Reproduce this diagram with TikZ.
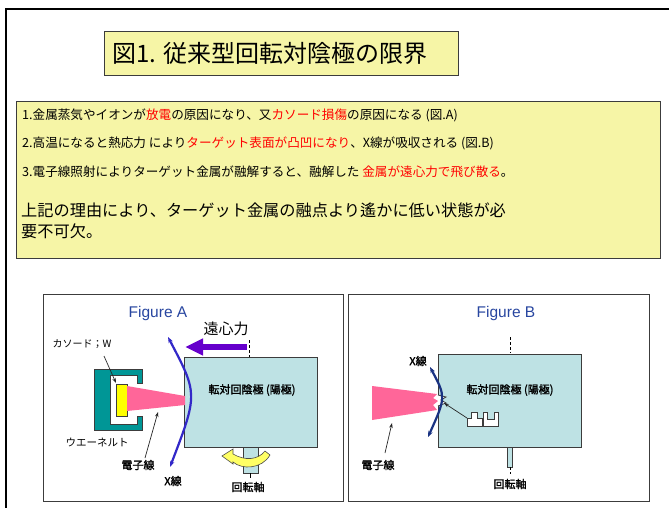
\documentclass[tikz,border=0pt]{standalone}
\usepackage{fontspec}
\setmainfont{Noto Sans CJK JP}
\newfontfamily\jpbold{Noto Sans CJK JP}[FakeBold=1.6]
\newfontfamily\latinsf{Liberation Sans}
\usetikzlibrary{arrows.meta}

\definecolor{boxyellow}{RGB}{246,245,166}
\definecolor{edgegray}{RGB}{60,60,60}
\definecolor{anodecyan}{RGB}{190,226,228}
\definecolor{wehneltteal}{RGB}{0,150,150}
\definecolor{beampink}{RGB}{255,102,153}
\definecolor{forcepurple}{RGB}{102,0,204}
\definecolor{xrayblue}{RGB}{50,40,200}
\definecolor{xraynavy}{RGB}{25,50,130}
\definecolor{figblue}{RGB}{40,70,160}
\definecolor{rotyellow}{RGB}{255,255,100}
\definecolor{cathyellow}{RGB}{255,255,0}

\tikzset{
  notebox/.style={draw=edgegray, line width=1.2pt, fill=boxyellow, inner sep=0pt, anchor=north west},
  panel/.style={draw=edgegray, line width=1.2pt, fill=white, inner sep=0pt, anchor=north west},
  anode/.style={draw=edgegray, line width=1pt, fill=anodecyan, inner sep=0pt, anchor=north west},
  bodytext/.style={anchor=west, inner sep=0pt, font=\fontsize{12.6}{15}\selectfont},
  figtitle/.style={inner sep=0pt, text=figblue, font=\latinsf\fontsize{15.5}{18}\selectfont},
  partlabel/.style={inner sep=0pt, font=\jpbold\fontsize{11}{13}\selectfont},
  pointer/.style={draw=black!85, line width=0.7pt, -{Stealth[length=5pt,width=3.5pt]}},
  xray/.style={line width=2.2pt, {Stealth[length=6pt,width=4.5pt]}-{Stealth[length=6pt,width=4.5pt]}},
  axisline/.style={draw=black, line width=0.8pt, dash pattern=on 3pt off 2pt},
}

\begin{document}
\begin{tikzpicture}[x=1pt,y=-1pt]
\useasboundingbox (0,0) rectangle (669,508);
\fill[white] (0,0) rectangle (669,508);

% page frame
\draw[line width=2pt] (6,508) -- (6,9) -- (669,9);

% title
\node[notebox, minimum width=354pt, minimum height=44pt] (titlebox) at (104,31) {};
\node[anchor=west, inner sep=0pt, font=\fontsize{24}{27}\selectfont] (title) at (112,53) {図1. 従来型回転対陰極の限界};

% notes
\node[notebox, minimum width=644pt, minimum height=157pt] (notes) at (16,101) {};
\node[bodytext] (note1) at (22,115) {1.金属蒸気やイオンが\textcolor{red}{放電}の原因になり、又\textcolor{red}{カソード損傷}の原因になる (図.A)};
\node[bodytext] (note2) at (22,143) {2.高温になると熱応力 により\textcolor{red}{ターゲット表面が凸凹になり}、X線が吸収される (図.B)};
\node[bodytext] (note3) at (22,172) {3.電子線照射によりターゲット金属が融解すると、融解した \textcolor{red}{金属が遠心力で飛び散る}。};
\node[anchor=north west, inner sep=0pt, align=left, font=\fontsize{16.2}{21}\selectfont] (summary) at (21,203)
  {上記の理由により、ターゲット金属の融点より遙かに低い状態が必\\要不可欠。};

% ---------------- Figure A ----------------
\node[panel, minimum width=300pt, minimum height=207pt] (panelA) at (43,294) {};
\node[figtitle] (figA) at (158,313) {Figure A};

% centrifugal force arrow
\node[inner sep=0pt, font=\fontsize{15}{17}\selectfont] (forceA) at (226,329) {遠心力};
\coordinate (forceStart) at (247,347);
\coordinate (forceTip) at (185,347);
\draw[forcepurple, line width=6pt, -{Triangle[length=18pt,width=16pt]}] (forceStart) -- (forceTip);
\coordinate (axisTopA1) at (249,340);
\coordinate (axisTopA2) at (249,357);
\draw[axisline] (axisTopA1) -- (axisTopA2);

% rotating anode, shaft
\node[anode, minimum width=15pt, minimum height=26pt] (shaftA) at (243,447) {};
\node[anode, minimum width=133pt, minimum height=90pt] (rotorA) at (184,357) {};
\node[partlabel] (rotorAtext) at (252,390) {転対回陰極 (陽極)};
\coordinate (axisBotA1) at (250,473);
\coordinate (axisBotA2) at (250,478);
\draw[line width=0.8pt] (axisBotA1) -- (axisBotA2);

% rotation arrow
\draw[draw=black!70, line width=0.6pt, fill=rotyellow]
  (222,456) -- (233,449) -- (233,454)
  .. controls (245,461) and (258,460) .. (265,451)
  -- (270,455)
  .. controls (262,469) and (242,470) .. (233,462)
  -- (233,464) -- cycle;
\node[partlabel] (shaftAtext) at (248,487) {回転軸};

% Wehnelt cup and cathode
\draw[draw=edgegray, line width=0.8pt, fill=wehneltteal]
  (94,369) -- (142,369) -- (142,383) -- (137,383) -- (137,375) -- (110,375)
  -- (110,424) -- (137,424) -- (137,416) -- (142,416) -- (142,430) -- (94,430) -- cycle;
\node[draw=edgegray, line width=0.8pt, fill=cathyellow, inner sep=0pt,
      minimum width=11pt, minimum height=32pt, anchor=north west] (cathode) at (116,384) {};

% electron beam
\fill[beampink] (127,386) -- (185,396) -- (185,405) -- (127,411) -- cycle;

% X-rays
\draw[xray, draw=xrayblue] (168,337) .. controls (198,394) .. (170,467);

% labels and pointers
\node[inner sep=0pt, font=\fontsize{10}{12}\selectfont] (cathlbl) at (82,344) {カソード；W};
\coordinate (cathFrom) at (104,356);
\coordinate (cathTo) at (116,383);
\draw[pointer] (cathFrom) -- (cathTo);
\node[inner sep=0pt, font=\fontsize{10.5}{12}\selectfont] (wehlbl) at (97,443) {ウエーネルト};
\node[partlabel] (elecA) at (138,465) {電子線};
\coordinate (elecAFrom) at (145,458);
\coordinate (elecATo) at (158,412);
\draw[pointer] (elecAFrom) -- (elecATo);
\node[partlabel] (xrayA) at (173,481) {X線};

% ---------------- Figure B ----------------
\node[panel, minimum width=301pt, minimum height=207pt] (panelB) at (348,294) {};
\node[figtitle] (figB) at (506,313) {Figure B};

\coordinate (axisTopB1) at (510,337);
\coordinate (axisTopB2) at (510,353);
\draw[axisline] (axisTopB1) -- (axisTopB2);
\node[anode, minimum width=5pt, minimum height=20pt] (shaftB) at (507,447) {};
\node[anode, minimum width=143pt, minimum height=93pt] (rotorB) at (438,354) {};
\node[partlabel] (rotorBtext) at (510,390) {転対回陰極 (陽極)};
\coordinate (axisBotB1) at (510,467);
\coordinate (axisBotB2) at (510,474);
\draw[axisline] (axisBotB1) -- (axisBotB2);
\node[partlabel] (shaftBtext) at (510,484) {回転軸};

% electron beam with a rough end
\fill[beampink] (372,386) -- (437,394) -- (433,398) -- (438,401) -- (433,405) -- (437,410) -- (372,420) -- cycle;

% roughened target surface
\draw[draw=edgegray, line width=0.8pt, fill=white]
  (438,395) -- (446,397) -- (441,400) -- (446,403) -- (438,406);

% X-rays
\draw[xray, draw=xraynavy] (430,367) .. controls (446,397) .. (428,437);

% surface relief marks
\draw[draw=edgegray, line width=0.9pt, fill=white]
  (467,426) -- (467,418) -- (471,418) -- (471,412) -- (477,412) -- (477,418) -- (482,418) -- (482,426) -- cycle;
\draw[draw=edgegray, line width=0.9pt, fill=white]
  (483,412) -- (487,412) -- (487,419) -- (494,419) -- (494,412) -- (498,412) -- (498,426) -- (483,426) -- cycle;
\coordinate (reliefFrom) at (467,418);
\coordinate (reliefTo) at (444,403);
\draw[pointer] (reliefFrom) -- (reliefTo);

\node[partlabel] (xrayB) at (418,361) {X線};
\node[partlabel] (elecB) at (378,465) {電子線};
\coordinate (elecBFrom) at (385,453);
\coordinate (elecBTo) at (392,423);
\draw[pointer] (elecBFrom) -- (elecBTo);

\end{tikzpicture}
\end{document}
